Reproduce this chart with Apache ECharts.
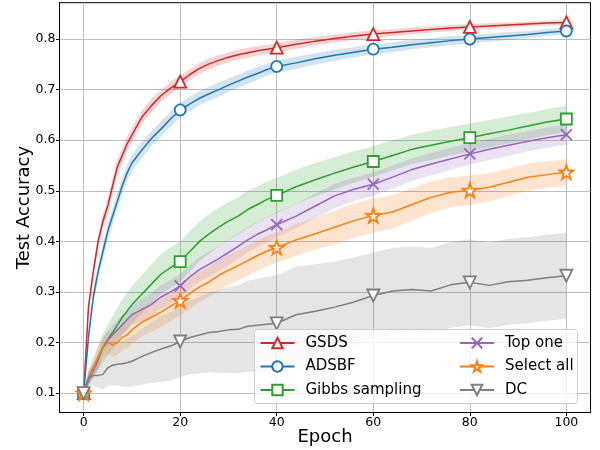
<!DOCTYPE html>
<html lang="en">
<head>
    <meta charset="utf-8"/>
    <script src="https://cdn.jsdelivr.net/npm/echarts@6/dist/echarts.min.js"></script>
    <title></title>
    <style>
        html, body { margin: 0; padding: 0; background: #fff; }
        #main { width: 600px; height: 450px; }
    </style>
</head>
<body>
<div id="main"></div>
<script type="text/javascript">

    // epochs sampled from the curves
    var epochs = [0, 1, 2, 3, 4, 5, 6, 7, 8, 9, 10, 12, 14, 16, 18, 20, 22, 24, 26, 28, 30, 32, 34, 36, 38, 40,
        44, 48, 52, 56, 60, 64, 68, 72, 76, 80, 84, 88, 92, 96, 100];
    var markEpochs = [0, 20, 40, 60, 80, 100];
    var xTicks = [0, 20, 40, 60, 80, 100];
    var yTicks = [0.1, 0.2, 0.3, 0.4, 0.5, 0.6, 0.7, 0.8];

    var gsds = [0.1, 0.27, 0.34, 0.40, 0.44, 0.47, 0.51, 0.548, 0.57, 0.593, 0.61, 0.645, 0.668, 0.688, 0.703, 0.716,
        0.73, 0.742, 0.751, 0.758, 0.764, 0.769, 0.773, 0.777, 0.78, 0.783,
        0.79, 0.796, 0.801, 0.806, 0.81, 0.813, 0.816, 0.819, 0.822, 0.824, 0.826, 0.828, 0.83, 0.832, 0.833];
    var gsdsStd = [0.003, 0.01, 0.012, 0.014, 0.015, 0.015, 0.015, 0.015, 0.015, 0.015, 0.014, 0.013, 0.013, 0.012, 0.012, 0.012,
        0.011, 0.011, 0.011, 0.01, 0.01, 0.01, 0.01, 0.009, 0.009, 0.009,
        0.009, 0.008, 0.008, 0.008, 0.007, 0.007, 0.007, 0.006, 0.006, 0.006, 0.006, 0.005, 0.005, 0.005, 0.005];

    var adsbf = [0.1, 0.21, 0.29, 0.34, 0.38, 0.42, 0.45, 0.48, 0.51, 0.535, 0.555, 0.58, 0.603, 0.622, 0.642, 0.66,
        0.672, 0.683, 0.692, 0.70, 0.709, 0.717, 0.725, 0.732, 0.74, 0.746,
        0.753, 0.761, 0.768, 0.774, 0.78, 0.784, 0.789, 0.793, 0.797, 0.80, 0.803, 0.806, 0.809, 0.813, 0.816];
    var adsbfStd = [0.003, 0.012, 0.014, 0.015, 0.016, 0.016, 0.016, 0.016, 0.016, 0.016, 0.016, 0.016, 0.015, 0.015, 0.015, 0.015,
        0.014, 0.014, 0.014, 0.014, 0.013, 0.013, 0.013, 0.013, 0.012, 0.012,
        0.012, 0.011, 0.011, 0.01, 0.01, 0.01, 0.009, 0.009, 0.009, 0.008, 0.008, 0.008, 0.007, 0.007, 0.007];

    var gibbs = [0.1, 0.13, 0.15, 0.17, 0.19, 0.205, 0.22, 0.235, 0.25, 0.262, 0.275, 0.295, 0.315, 0.335, 0.348, 0.36,
        0.38, 0.40, 0.415, 0.428, 0.44, 0.45, 0.463, 0.473, 0.483, 0.491,
        0.508, 0.522, 0.535, 0.547, 0.558, 0.57, 0.582, 0.59, 0.598, 0.605, 0.613, 0.62, 0.628, 0.636, 0.642];
    var gibbsStd = [0.003, 0.015, 0.02, 0.025, 0.028, 0.03, 0.032, 0.034, 0.035, 0.036, 0.037, 0.038, 0.039, 0.04, 0.04, 0.04,
        0.04, 0.039, 0.039, 0.038, 0.038, 0.037, 0.037, 0.036, 0.036, 0.035,
        0.034, 0.033, 0.032, 0.031, 0.03, 0.03, 0.029, 0.029, 0.028, 0.028, 0.027, 0.027, 0.026, 0.026, 0.026];

    var topOne = [0.1, 0.125, 0.145, 0.165, 0.19, 0.205, 0.215, 0.225, 0.235, 0.245, 0.255, 0.265, 0.275, 0.29, 0.30, 0.312,
        0.33, 0.344, 0.355, 0.366, 0.378, 0.39, 0.403, 0.414, 0.423, 0.433,
        0.45, 0.47, 0.49, 0.503, 0.513, 0.527, 0.542, 0.553, 0.563, 0.573, 0.582, 0.59, 0.598, 0.605, 0.611];
    var topOneStd = [0.003, 0.01, 0.013, 0.015, 0.017, 0.018, 0.019, 0.02, 0.02, 0.021, 0.021, 0.022, 0.022, 0.023, 0.023, 0.024,
        0.024, 0.024, 0.025, 0.025, 0.025, 0.025, 0.025, 0.025, 0.025, 0.025,
        0.024, 0.024, 0.024, 0.023, 0.023, 0.023, 0.022, 0.022, 0.022, 0.021, 0.021, 0.021, 0.02, 0.02, 0.02];

    var selectAll = [0.1, 0.13, 0.15, 0.17, 0.19, 0.20, 0.195, 0.20, 0.21, 0.215, 0.225, 0.24, 0.25, 0.26, 0.272, 0.283,
        0.297, 0.31, 0.32, 0.333, 0.343, 0.352, 0.362, 0.372, 0.381, 0.388,
        0.403, 0.415, 0.428, 0.441, 0.451, 0.458, 0.473, 0.487, 0.497, 0.501, 0.507, 0.517, 0.527, 0.532, 0.537];
    var selectAllStd = [0.003, 0.012, 0.015, 0.018, 0.02, 0.022, 0.023, 0.024, 0.025, 0.026, 0.027, 0.028, 0.029, 0.03, 0.03, 0.03,
        0.03, 0.03, 0.03, 0.03, 0.03, 0.03, 0.03, 0.03, 0.03, 0.03,
        0.031, 0.032, 0.033, 0.034, 0.034, 0.033, 0.032, 0.031, 0.03, 0.029, 0.028, 0.027, 0.027, 0.026, 0.026];

    var dc = [0.1, 0.13, 0.135, 0.135, 0.137, 0.15, 0.155, 0.157, 0.158, 0.16, 0.163, 0.172, 0.18, 0.187, 0.193, 0.202,
        0.21, 0.215, 0.22, 0.222, 0.225, 0.226, 0.232, 0.234, 0.236, 0.238,
        0.255, 0.262, 0.27, 0.28, 0.293, 0.302, 0.305, 0.302, 0.314, 0.319, 0.313, 0.32, 0.323, 0.328, 0.332];
    var dcStd = [0.003, 0.015, 0.02, 0.025, 0.03, 0.035, 0.04, 0.042, 0.045, 0.048, 0.05, 0.055, 0.06, 0.065, 0.068, 0.07,
        0.073, 0.076, 0.079, 0.082, 0.085, 0.087, 0.09, 0.092, 0.094, 0.095,
        0.095, 0.093, 0.09, 0.088, 0.085, 0.085, 0.085, 0.085, 0.085, 0.085, 0.085, 0.085, 0.085, 0.085, 0.085];

    var names = ['GSDS', 'ADSBF', 'Gibbs sampling', 'Top one', 'Select all', 'DC'];

    var starPath = 'path://M50,0L61.8,35.1L98.1,35.1L68.8,56.8L79.4,91L50,70L20.6,91L31.2,56.8L1.9,35.1L38.2,35.1Z';
    var crossPath = 'path://M0,0L10,10M10,0L0,10';

    var methods = [
        {vals: gsds, std: gsdsStd, color: '#d62728', symbol: 'triangle', size: 12, fill: '#fff'},
        {vals: adsbf, std: adsbfStd, color: '#1f77b4', symbol: 'circle', size: 11, fill: '#fff'},
        {vals: gibbs, std: gibbsStd, color: '#2ca02c', symbol: 'rect', size: 11, fill: '#fff'},
        {vals: topOne, std: topOneStd, color: '#9467bd', symbol: crossPath, size: 11, fill: '#9467bd'},
        {vals: selectAll, std: selectAllStd, color: '#ff7f0e', symbol: starPath, size: 14, fill: '#fff'},
        {vals: dc, std: dcStd, color: '#7f7f7f', symbol: 'triangle', size: 12, fill: '#fff', rotate: 180}
    ];

    var font = 'DejaVu Sans';
    var series = [];

    methods.forEach(function (m, k) {
        // shaded band, drawn once as one polygon through the axis scales
        series.push({
            type: 'custom',
            silent: true,
            z: 1,
            data: epochs.map(function (e, i) { return [e, m.vals[i] - m.std[i], m.vals[i] + m.std[i]]; }),
            encode: {x: 0, y: [1, 2]},
            renderItem: function (params, api) {
                if (params.dataIndex !== 0) return;
                var up = [], lo = [];
                for (var i = 0; i < epochs.length; i++) {
                    up.push(api.coord([epochs[i], m.vals[i] + m.std[i]]));
                    lo.push(api.coord([epochs[i], m.vals[i] - m.std[i]]));
                }
                return {
                    type: 'polygon',
                    shape: {points: up.concat(lo.reverse())},
                    style: {fill: m.color, opacity: 0.2}
                };
            }
        });
    });

    methods.forEach(function (m, k) {
        series.push({
            name: names[k],
            type: 'line',
            z: 3 + k,
            data: epochs.map(function (e, i) { return [e, m.vals[i]]; }),
            symbol: m.symbol,
            symbolRotate: m.rotate || 0,
            symbolSize: function (v) { return markEpochs.indexOf(v[0]) >= 0 ? m.size : 0; },
            showAllSymbol: true,
            color: m.color,
            lineStyle: {color: m.color, width: 1.5},
            itemStyle: {color: m.fill, borderColor: m.color, borderWidth: 1.8, opacity: 1},
            emphasis: {disabled: true},
            clip: false
        });
    });

    var legendText = {fontSize: 15, color: '#000', fontFamily: font, lineHeight: 15, padding: [0, 0, 0, 6]};

    var option = {
        animation: false,
        backgroundColor: '#fff',
        grid: {
            left: 59.5, right: 9.5, top: 2.7, bottom: 37.5,
            outerBoundsMode: 'none', containLabel: false,
            show: true, borderColor: '#000', borderWidth: 1
        },
        legend: [
            {
                data: names.slice(0, 3),
                orient: 'vertical',
                left: 254.5, top: 329.5,
                padding: [6, 156, 6, 5],
                itemWidth: 34, itemHeight: 13, itemGap: 8.5,
                backgroundColor: 'rgba(255,255,255,0.8)',
                borderColor: '#cccccc', borderWidth: 1, borderRadius: 3,
                textStyle: legendText,
                z: 10
            },
            {
                data: names.slice(3),
                orient: 'vertical',
                left: 459, top: 335.5,
                padding: 0,
                itemWidth: 34, itemHeight: 13, itemGap: 8.5,
                textStyle: legendText,
                z: 11
            }
        ],
        xAxis: {
            type: 'value', min: -5, max: 105,
            name: 'Epoch', nameLocation: 'middle', nameGap: 16, nameMoveOverlap: false,
            nameTextStyle: {fontSize: 18, color: '#000', fontFamily: font},
            axisLine: {show: true, onZero: false, lineStyle: {color: '#000', width: 1}},
            axisTick: {show: true, length: 3.5, customValues: xTicks, lineStyle: {color: '#000'}},
            axisLabel: {customValues: xTicks, margin: 4, fontSize: 12.5, color: '#000', fontFamily: font},
            splitLine: {show: true, lineStyle: {color: '#bdbdbd', width: 1}}
        },
        yAxis: {
            type: 'value', min: 0.0616, max: 0.872,
            name: 'Test Accuracy', nameLocation: 'middle', nameGap: 26, nameMoveOverlap: false,
            nameTextStyle: {fontSize: 18, color: '#000', fontFamily: font},
            axisLine: {show: true, onZero: false, lineStyle: {color: '#000', width: 1}},
            axisTick: {show: true, length: 3.5, customValues: yTicks, lineStyle: {color: '#000'}},
            axisLabel: {
                customValues: yTicks, margin: 4, fontSize: 12.5, color: '#000', fontFamily: font,
                formatter: function (v) { return v.toFixed(1); }
            },
            splitLine: {show: true, lineStyle: {color: '#bdbdbd', width: 1}}
        },
        series: series
    };

    var myChart = echarts.init(document.getElementById('main'));
    myChart.setOption(option);
</script>
</body>
</html>
